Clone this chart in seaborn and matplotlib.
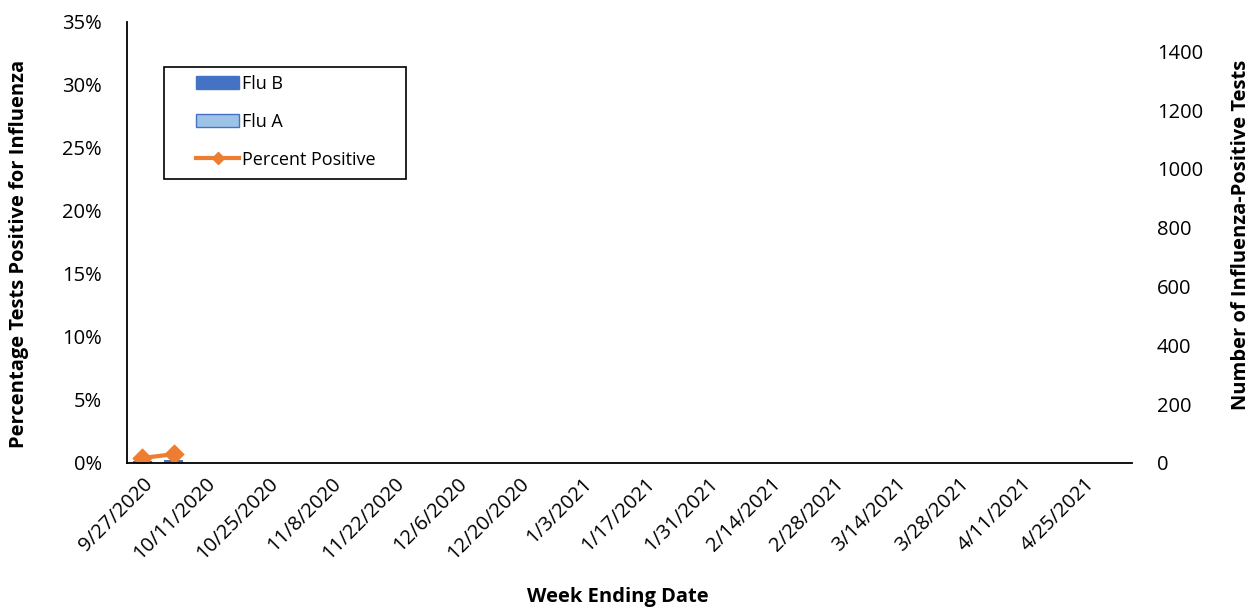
import numpy as np
import pandas as pd
import matplotlib
matplotlib.use("Agg")
import matplotlib.pyplot as plt
import seaborn as sns
from matplotlib.patches import Patch, Rectangle
from matplotlib.lines import Line2D

# week ending dates shown on the axis (weekly categories)
weeks = ["9/27/2020", "10/4/2020", "10/11/2020", "10/18/2020", "10/25/2020", "11/1/2020",
         "11/8/2020", "11/15/2020", "11/22/2020", "11/29/2020", "12/6/2020", "12/13/2020",
         "12/20/2020", "12/27/2020", "1/3/2021", "1/10/2021", "1/17/2021", "1/24/2021",
         "1/31/2021", "2/7/2021", "2/14/2021", "2/21/2021", "2/28/2021", "3/7/2021",
         "3/14/2021", "3/21/2021", "3/28/2021", "4/4/2021", "4/11/2021", "4/18/2021",
         "4/25/2021", "5/2/2021"]

# reported weeks so far
data_weeks = ["9/27/2020", "10/4/2020"]
flu_a = [1, 2]
flu_b = [6, 7]
pct_positive = [0.4, 0.7]

df = pd.DataFrame({"week": data_weeks, "flu_a": flu_a, "flu_b": flu_b, "pct": pct_positive})
df["total"] = df["flu_a"] + df["flu_b"]

plt.rcParams["font.family"] = ["Open Sans", "DejaVu Sans"]

fig, ax = plt.subplots(figsize=(12.55, 6.08), dpi=100)
fig.subplots_adjust(left=0.101, right=0.902, top=0.964, bottom=0.2385)
ax2 = ax.twinx()

# stacked bars (counts) on the right axis
sns.barplot(data=df, x="week", y="total", order=weeks, color="#4472C4", width=0.6,
            saturation=1, ax=ax2, errorbar=None)
sns.barplot(data=df, x="week", y="flu_a", order=weeks, color="#9DC3E6", width=0.6,
            saturation=1, ax=ax2, errorbar=None, edgecolor="#4472C4", linewidth=0.8)

# percent positive line on the left axis
sns.pointplot(data=df, x="week", y="pct", order=weeks, color="#ED7D31", markers="D",
              markersize=8.5, linewidth=3, ax=ax, errorbar=None)

ax.set_zorder(ax2.get_zorder() + 1)
ax.patch.set_visible(False)

ax.set_xlim(-0.5, len(weeks) - 0.5)
ax.set_ylim(0, 35)
ax.set_yticks(np.arange(0, 36, 5))
ax.set_yticklabels([f"{v}%" for v in range(0, 36, 5)])
ax2.set_ylim(0, 1500)
ax2.set_yticks(np.arange(0, 1401, 200))

labels = [w if i % 2 == 0 else "" for i, w in enumerate(weeks)]
ax.set_xticks(range(len(weeks)))
ax.set_xticklabels(labels, rotation=45, ha="right", rotation_mode="anchor", fontsize=14.5)
ax.tick_params(axis="x", length=0, pad=8)
ax.tick_params(axis="y", length=0, labelsize=14.5, pad=18)
ax2.tick_params(axis="y", length=0, labelsize=14.5, pad=18)

for a in (ax, ax2):
    for s in ["top", "right", "left"]:
        a.spines[s].set_visible(False)
ax.spines["left"].set_visible(True)
ax.spines["left"].set_linewidth(1.3)
ax.spines["bottom"].set_linewidth(1.3)
ax2.spines["bottom"].set_visible(False)

ax.set_xlabel("Week Ending Date", fontsize=14.5, fontweight="bold")
ax.set_ylabel("Percentage Tests Positive for Influenza", fontsize=14.5, fontweight="bold")
ax2.set_ylabel("Number of Influenza-Positive Tests", fontsize=14.5, fontweight="bold")
ax.xaxis.set_label_coords(0.488, -0.28)
ax.yaxis.set_label_coords(-0.097, 0.474)
ax2.yaxis.set_label_coords(1.098, 0.517)

handles = [Patch(facecolor="#4472C4", edgecolor="#4472C4"),
           Patch(facecolor="#9DC3E6", edgecolor="#4472C4"),
           Line2D([], [], color="#ED7D31", marker="D", markersize=6, linewidth=3)]
leg = ax.legend(handles, ["Flu B", "Flu A", "Percent Positive"], loc="upper left",
                bbox_to_anchor=(0.069, 0.88), fontsize=13, frameon=False,
                handlelength=2.4, handletextpad=0.15, labelspacing=1.1,
                borderpad=0, borderaxespad=0)
leg.set_zorder(10)

# legend frame with wider side padding
fig.canvas.draw()
bb = leg.get_window_extent()
inv = fig.transFigure.inverted()
x0, y0 = inv.transform((bb.x0 - 32, bb.y0 - 10))
x1, y1 = inv.transform((bb.x1 + 30, bb.y1 + 8))
fig.patches.append(Rectangle((x0, y0), x1 - x0, y1 - y0, transform=fig.transFigure,
                             fill=False, edgecolor="black", linewidth=1.2, zorder=10))

fig.savefig("out.png", dpi=100)
